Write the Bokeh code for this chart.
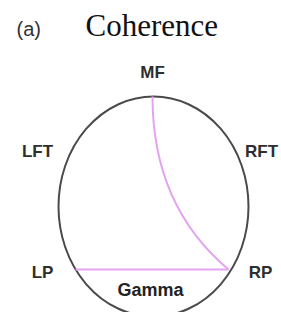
from bokeh.plotting import figure
from bokeh.models import Range1d
from bokeh.core.properties import value
from bokeh.embed import file_html
from bokeh.resources import INLINE

# ---- data ----
panel_label = "(a)"
title_text = "Coherence"
band_label = "Gamma"
electrodes = ["MF", "LFT", "RFT", "LP", "RP"]
conn_from = ["MF", "LP"]
conn_to = ["RP", "RP"]

# ---- layout (page pixel coordinates) ----
head_cx, head_cy, head_w, head_h = 153, 206, 190, 220
node_pos = {"MF": (152, 96), "RP": (228, 269), "LP": (75, 269),
            "LFT": (70, 151), "RFT": (236, 151)}
label_pos = {"MF": (152, 72), "LFT": (37, 151), "RFT": (261, 151),
             "LP": (42, 272), "RP": (260, 272)}
# control point bending for each connection (None = straight)
conn_ctrl = {("MF", "RP"): (152, 205)}

W, H = 279, 312
p = figure(width=W, height=H, output_backend="svg", toolbar_location=None,
           x_range=Range1d(0, W), y_range=Range1d(H, 0),
           min_border=0, outline_line_color=None, background_fill_color="white",
           border_fill_color="white")
p.axis.visible = False
p.grid.visible = False

# head outline
p.ellipse(x=[head_cx], y=[head_cy], width=[head_w], height=[head_h],
          fill_color=None, line_color="#4a4a4a", line_width=2)

# connections
for a, b in zip(conn_from, conn_to):
    x0, y0 = node_pos[a]
    x1, y1 = node_pos[b]
    ctrl = conn_ctrl.get((a, b))
    if ctrl is None:
        p.segment(x0=[x0], y0=[y0], x1=[x1], y1=[y1], line_color="#e3a3f0", line_width=2)
    else:
        p.quadratic(x0=[x0], y0=[y0], x1=[x1], y1=[y1], cx=[ctrl[0]], cy=[ctrl[1]],
                    line_color="#e3a3f0", line_width=2)

# electrode labels
p.text(x=[label_pos[e][0] for e in electrodes], y=[label_pos[e][1] for e in electrodes],
       text=electrodes, text_align="center", text_baseline="middle",
       text_font=value("Liberation Sans"), text_font_style="bold",
       text_font_size="17px", text_color="#2e2e2e")

# band label
p.text(x=[150], y=[289], text=[band_label], text_align="center", text_baseline="middle",
       text_font=value("Liberation Sans"), text_font_style="bold",
       text_font_size="18px", text_color="#222222")

# panel label and title
p.text(x=[16], y=[28], text=[panel_label], text_align="left", text_baseline="middle",
       text_font=value("Liberation Sans"), text_font_size="20px", text_color="#333333")
p.text(x=[85], y=[25], text=[title_text], text_align="left", text_baseline="middle",
       text_font=value("Liberation Serif"), text_font_size="31px", text_color="#111111")

open("out.html", "w").write(file_html(p, INLINE))
